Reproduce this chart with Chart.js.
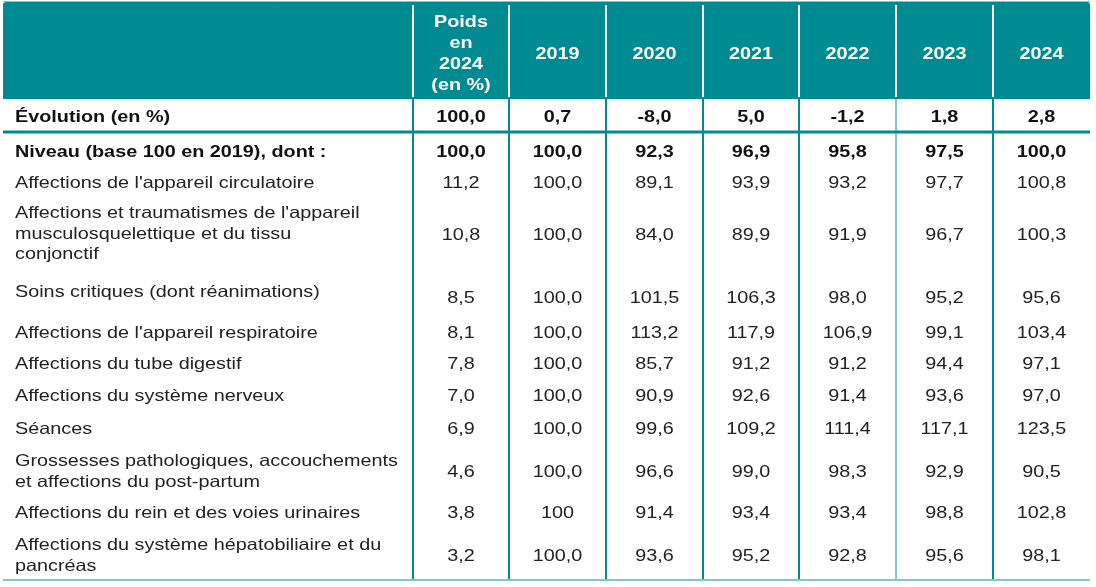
<!DOCTYPE html>
<html>
<head>
<meta charset="utf-8">
<script src="https://cdn.jsdelivr.net/npm/chart.js@4"></script>
<style>
  html, body { margin: 0; padding: 0; background: #fff; }
  #wrap { width: 1096px; height: 587px; position: relative; }
</style>
</head>
<body>
<div id="wrap"><canvas id="table-chart"></canvas></div>
<script>
// Column headers and row labels
const headers = [['Poids', 'en', '2024', '(en %)'], '2019', '2020', '2021', '2022', '2023', '2024'];
const rowLabels = [
  'Évolution (en %)',
  'Niveau (base 100 en 2019), dont :',
  "Affections de l'appareil circulatoire",
  ["Affections et traumatismes de l'appareil", 'musculosquelettique et du tissu', 'conjonctif'],
  'Soins critiques (dont réanimations)',
  "Affections de l'appareil respiratoire",
  'Affections du tube digestif',
  'Affections du système nerveux',
  'Séances',
  ['Grossesses pathologiques, accouchements', 'et affections du post-partum'],
  'Affections du rein et des voies urinaires',
  ['Affections du système hépatobiliaire et du', 'pancréas']
];

// Values per column
const poids2024 = [100.0, 100.0, 11.2, 10.8, 8.5, 8.1, 7.8, 7.0, 6.9, 4.6, 3.8, 3.2];
const v2019 = [0.7, 100.0, 100.0, 100.0, 100.0, 100.0, 100.0, 100.0, 100.0, 100.0, '100', 100.0];
const v2020 = [-8.0, 92.3, 89.1, 84.0, 101.5, 113.2, 85.7, 90.9, 99.6, 96.6, 91.4, 93.6];
const v2021 = [5.0, 96.9, 93.9, 89.9, 106.3, 117.9, 91.2, 92.6, 109.2, 99.0, 93.4, 95.2];
const v2022 = [-1.2, 95.8, 93.2, 91.9, 98.0, 106.9, 91.2, 91.4, 111.4, 98.3, 93.4, 92.8];
const v2023 = [1.8, 97.5, 97.7, 96.7, 95.2, 99.1, 94.4, 93.6, 117.1, 92.9, 98.8, 95.6];
const v2024 = [2.8, 100.0, 100.8, 100.3, 95.6, 103.4, 97.1, 97.0, 123.5, 90.5, 102.8, 98.1];
const valueColumns = [poids2024, v2019, v2020, v2021, v2022, v2023, v2024];

// Layout (in table units, mapped through the chart scales)
const colEdges = [3, 413, 509, 606, 703, 799, 896, 993, 1090];
const rowCenters = [117, 152, 183, 235, 298, 333, 364, 396, 429, 472, 513, 556];
const labelCenters = [117, 152, 183, 234, 292, 333, 364, 396, 429, 472, 513, 556];
const headerTop = 2;
const headerBottom = 99;
const headerMid = 54;
const ruleY = 132;
const bottomY = 580;
const lineGap = 20.5;
const labelX = 15;

const TEAL = '#008a91';
const LIGHT_TEAL = '#82c6c9';
const STRETCH = 1.2;
const SIZE = '16.5px ';
const FONT = '"Liberation Sans", Arial, sans-serif';

function fmt(v) {
  if (typeof v === 'string') return v;
  return v.toFixed(1).replace('.', ',');
}

function colCenter(c) {
  return (colEdges[c + 1] + colEdges[c + 2]) / 2;
}

function drawText(ctx, text, x, y, align) {
  ctx.save();
  ctx.translate(x, y);
  ctx.scale(STRETCH, 1);
  ctx.textAlign = align;
  ctx.textBaseline = 'middle';
  ctx.fillText(text, 0, 0);
  ctx.restore();
}

// One dataset per value column, each point sits in its cell
const datasets = valueColumns.map((col, c) => ({
  label: Array.isArray(headers[c]) ? headers[c].join(' ') : headers[c],
  data: col.map((v, r) => ({ x: colCenter(c), y: rowCenters[r], v: v })),
  pointRadius: 0,
  pointHoverRadius: 0
}));

const tablePlugin = {
  id: 'tablePlugin',
  beforeDatasetsDraw(chart) {
    const ctx = chart.ctx;
    const xs = chart.scales.x;
    const ys = chart.scales.y;
    const px = v => xs.getPixelForValue(v);
    const py = v => ys.getPixelForValue(v);
    const left = px(colEdges[0]);
    const right = px(colEdges[colEdges.length - 1]);

    ctx.save();
    // header band
    ctx.strokeStyle = LIGHT_TEAL;
    ctx.lineWidth = 1;
    ctx.beginPath();
    ctx.moveTo(left, py(headerTop) - 0.5);
    ctx.lineTo(right, py(headerTop) - 0.5);
    ctx.stroke();
    ctx.fillStyle = TEAL;
    ctx.beginPath();
    ctx.roundRect(left, py(headerTop), right - left, py(headerBottom) - py(headerTop), [3, 3, 0, 0]);
    ctx.fill();

    // vertical separators
    for (let i = 1; i < colEdges.length - 1; i++) {
      const x = Math.round(px(colEdges[i]));
      ctx.lineWidth = 2;
      ctx.strokeStyle = '#ffffff';
      ctx.beginPath();
      ctx.moveTo(x, py(headerTop) + 3);
      ctx.lineTo(x, py(headerBottom) - 2);
      ctx.stroke();
      ctx.strokeStyle = i === 6 ? LIGHT_TEAL : TEAL;
      ctx.beginPath();
      ctx.moveTo(x, py(headerBottom));
      ctx.lineTo(x, py(bottomY));
      ctx.stroke();
    }

    // horizontal rules
    ctx.strokeStyle = TEAL;
    ctx.lineWidth = 3;
    ctx.beginPath();
    ctx.moveTo(left, py(ruleY));
    ctx.lineTo(right, py(ruleY));
    ctx.stroke();
    ctx.strokeStyle = LIGHT_TEAL;
    ctx.lineWidth = 2;
    ctx.beginPath();
    ctx.moveTo(left, py(bottomY));
    ctx.lineTo(right, py(bottomY));
    ctx.stroke();

    // header texts
    ctx.fillStyle = '#ffffff';
    ctx.font = 'bold ' + SIZE + FONT;
    headers.forEach((h, c) => {
      const lines = Array.isArray(h) ? h : [h];
      const y0 = headerMid - (lines.length - 1) * 21 / 2;
      lines.forEach((t, k) => drawText(ctx, t, px(colCenter(c)), py(y0 + k * 21), 'center'));
    });

    // row labels
    rowLabels.forEach((lab, r) => {
      const lines = Array.isArray(lab) ? lab : [lab];
      ctx.font = (r < 2 ? 'bold ' : '') + SIZE + FONT;
      ctx.fillStyle = r < 2 ? '#111111' : '#222222';
      const y0 = labelCenters[r] - (lines.length - 1) * lineGap / 2;
      lines.forEach((t, k) => drawText(ctx, t, px(labelX), py(y0 + k * lineGap), 'left'));
    });
    ctx.restore();
  },
  afterDatasetsDraw(chart) {
    const ctx = chart.ctx;
    ctx.save();
    chart.data.datasets.forEach((ds, i) => {
      const meta = chart.getDatasetMeta(i);
      meta.data.forEach((pt, r) => {
        ctx.font = (r < 2 ? 'bold ' : '') + SIZE + FONT;
        ctx.fillStyle = r < 2 ? '#111111' : '#222222';
        drawText(ctx, fmt(ds.data[r].v), pt.x, pt.y, 'center');
      });
    });
    ctx.restore();
  }
};

new Chart(document.getElementById('table-chart'), {
  type: 'scatter',
  data: { datasets: datasets },
  options: {
    responsive: true,
    maintainAspectRatio: false,
    animation: false,
    layout: { padding: 0 },
    plugins: { legend: { display: false }, tooltip: { enabled: false } },
    events: [],
    scales: {
      x: { type: 'linear', min: 0, max: 1096, display: false },
      y: { type: 'linear', min: 0, max: 587, reverse: true, display: false }
    }
  },
  plugins: [tablePlugin]
});
</script>
</body>
</html>
